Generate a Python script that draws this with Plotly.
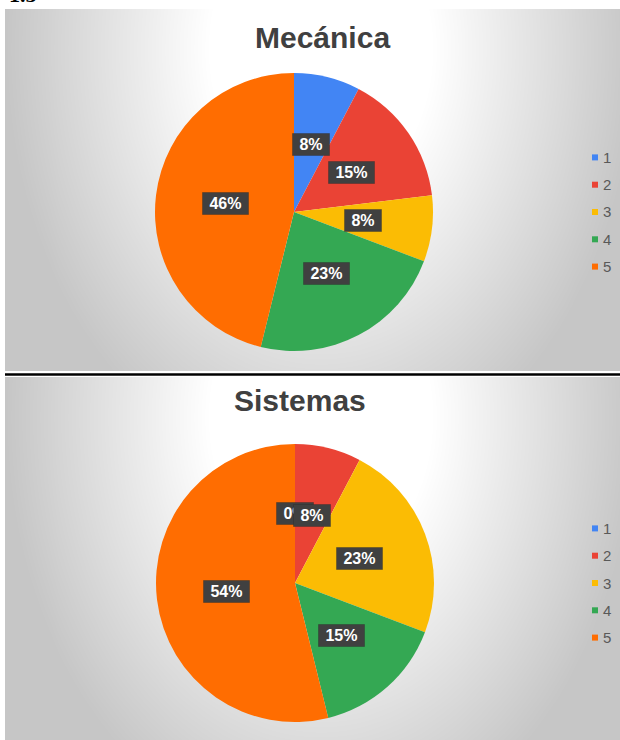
import numpy as np
import plotly.graph_objects as go

# Survey answers (rating 1-5) per department
categories = ["1", "2", "3", "4", "5"]
mecanica = [1, 2, 1, 3, 6]
sistemas = [0, 1, 3, 2, 7]
titles = ["Mecánica", "Sistemas"]
series = [mecanica, sistemas]

colors = ["#4285F4", "#EA4335", "#FBBC04", "#34A853", "#FF6D01"]

W, H = 620, 740
R = 139  # pie radius in px

panels = [
    dict(x0=5, x1=620, y0=9, y1=371, cx=294, cy=212, tx=322, ty=37),
    dict(x0=5, x1=620, y0=377, y1=740, cx=295, cy=583, tx=300, ty=400),
]


def fx(px):
    return px / W


def fy(py):
    return 1 - py / H


fig = go.Figure()
layout_axes = {}
annotations = []
shapes = []

for k, (p, vals, title) in enumerate(zip(panels, series, titles)):
    sfx = "" if k == 0 else str(k + 1)

    # soft radial backdrop of the chart area
    xs = np.linspace(p["x0"], p["x1"], 70)
    ys = np.linspace(p["y0"], p["y1"], 50)
    X, Y = np.meshgrid(xs, ys)
    gx = (p["x0"] + p["x1"]) / 2 + 8
    gy = p["y0"] + 40
    t = np.sqrt(((X - gx) / 315) ** 2 + ((Y - gy) / 430) ** 2)
    fig.add_trace(go.Heatmap(
        x=xs, y=ys, z=t, zmin=0.35, zmax=1.0,
        colorscale=[[0, "#ffffff"], [1, "#c6c6c6"]],
        showscale=False, hoverinfo="skip", zsmooth="best",
        xaxis="x" + sfx, yaxis="y" + sfx,
    ))
    layout_axes["xaxis" + sfx] = dict(
        domain=[fx(p["x0"]), fx(p["x1"])], range=[p["x0"], p["x1"]],
        visible=False, fixedrange=True)
    layout_axes["yaxis" + sfx] = dict(
        domain=[fy(p["y1"]), fy(p["y0"])], range=[p["y1"], p["y0"]],
        visible=False, fixedrange=True)

    # the pie itself
    fig.add_trace(go.Pie(
        labels=categories, values=vals, sort=False,
        direction="clockwise", rotation=0,
        marker=dict(colors=colors, line=dict(width=0)),
        textinfo="none", showlegend=False,
        domain=dict(x=[fx(p["cx"] - R), fx(p["cx"] + R)],
                    y=[fy(p["cy"] + R), fy(p["cy"] - R)]),
    ))

    # chart title
    annotations.append(dict(
        text="<b>%s</b>" % title, x=fx(p["tx"]), y=fy(p["ty"]),
        xref="paper", yref="paper", xanchor="center", yanchor="middle",
        showarrow=False,
        font=dict(family="Liberation Sans, Arial", size=30, color="#404040")))

    # percentage call-outs on each slice bisector
    total = float(sum(vals))
    cum = 0.0
    for v in vals:
        mid = (cum + v / 2) / total * 2 * np.pi
        cum += v
        lx = p["cx"] + 0.5 * R * np.sin(mid)
        ly = p["cy"] - 0.5 * R * np.cos(mid)
        txt = "%d%%" % round(v / total * 100)
        annotations.append(dict(
            text="\u00a0<b>%s</b>\u00a0" % txt, x=fx(lx), y=fy(ly),
            xref="paper", yref="paper", xanchor="center", yanchor="middle",
            showarrow=False, bgcolor="#404040", borderpad=2,
            bordercolor="rgba(40,40,40,0.35)", borderwidth=1,
            font=dict(family="Liberation Sans, Arial", size=16,
                      color="#ffffff")))

    # legend column at the right side
    for i, (cat, col) in enumerate(zip(categories, colors)):
        ly = p["cy"] + (i - 2) * 27.3
        shapes.append(dict(
            type="rect", xref="paper", yref="paper",
            x0=fx(592), x1=fx(598), y0=fy(ly + 3), y1=fy(ly - 3),
            fillcolor=col, line=dict(width=0)))
        annotations.append(dict(
            text=cat, x=fx(601), y=fy(ly), xref="paper", yref="paper",
            xanchor="left", yanchor="middle", showarrow=False,
            font=dict(family="Liberation Sans, Arial", size=15,
                      color="#595959")))

# separator rule between the two charts
shapes.append(dict(
    type="rect", xref="paper", yref="paper",
    x0=fx(5), x1=fx(620), y0=fy(375.8), y1=fy(373.2),
    fillcolor="#000000", line=dict(width=0)))

# section number above the charts
annotations.append(dict(
    text="<b>1.5</b>", x=fx(7), y=fy(-5), xref="paper", yref="paper",
    xanchor="left", yanchor="middle", showarrow=False,
    font=dict(family="Liberation Serif, Times New Roman", size=22,
              color="#000000")))

fig.update_layout(
    width=W, height=H,
    margin=dict(l=0, r=0, t=0, b=0),
    paper_bgcolor="#ffffff", plot_bgcolor="#ffffff",
    annotations=annotations, shapes=shapes,
    **layout_axes,
)

fig.write_html("out.html")
